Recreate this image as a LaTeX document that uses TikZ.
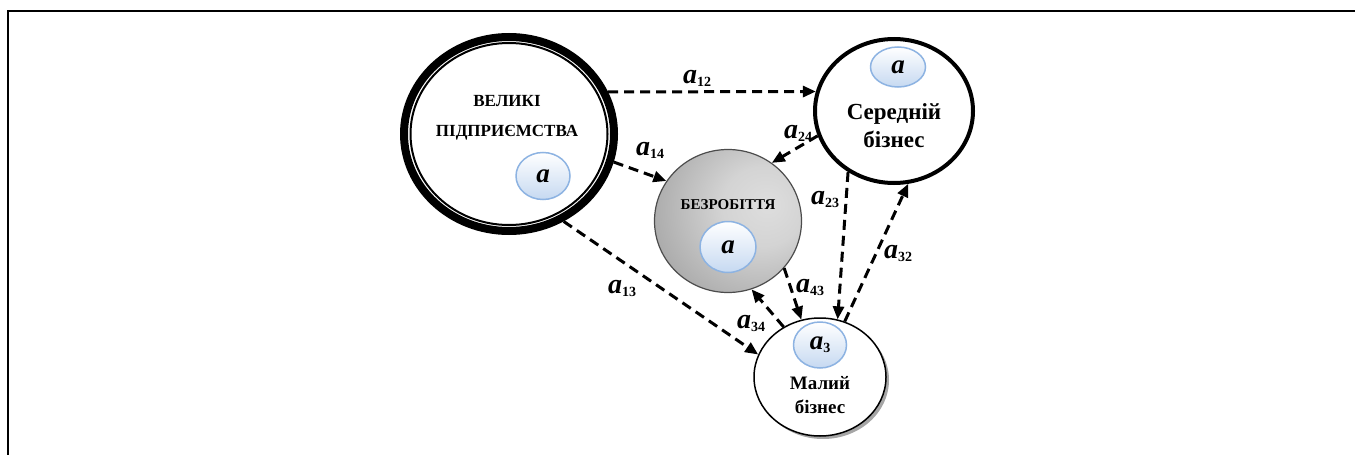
\documentclass[tikz,border=0pt]{standalone}
\usepackage{fontspec}
\setmainfont{Liberation Serif}
\usetikzlibrary{arrows.meta,shapes.geometric,shadows}
\definecolor{ringblue}{HTML}{8DB3E2}
\definecolor{fillblue}{HTML}{C6D9F1}
\pgfdeclareradialshading{greyball}{\pgfpoint{14bp}{6bp}}{color(0bp)=(gray!26);color(14bp)=(gray!34);color(50bp)=(gray!88);color(100bp)=(gray!88)}
\newcommand\albl[1]{{\fontsize{28}{28}\selectfont\bfseries\itshape a}\raisebox{-3pt}{\fontsize{14}{14}\selectfont\bfseries #1}}
\newcommand\avarA{{\fontsize{27}{27}\selectfont\bfseries\itshape a}}
\begin{document}
\begin{tikzpicture}[x=1pt,y=-1pt,
  conn/.style={line width=3pt, dash pattern=on 10pt off 6pt, -{Triangle[length=13pt,width=11pt]}},
  lbl/.style={inner sep=0pt},
  avar/.style={ellipse, draw=ringblue, line width=1.5pt, top color=white, bottom color=fillblue, inner sep=0pt},
  bigcirc/.style={ellipse, draw, line width=8pt, fill=white, inner sep=0pt},
  txt/.style={align=center, inner sep=0pt, font=\bfseries}]
\useasboundingbox (0,0) rectangle (1355,455);
\draw[line width=2.5pt] (8,455) -- (8,11) -- (1355,11);

% main nodes
\node[bigcirc, minimum width=210pt, minimum height=194pt] (big) at (509,134) {};
\draw[line width=2pt] (big.center) ellipse [x radius=98.5, y radius=91];
\node[ellipse, draw, line width=4pt, fill=white, minimum width=158pt, minimum height=144pt, inner sep=0pt] (med) at (894,111) {};
\node[ellipse, draw=gray!60!black, line width=1.2pt, shading=greyball, minimum width=147pt, minimum height=143pt, inner sep=0pt] (unemp) at (728,221) {};
\node[ellipse, draw, line width=1.5pt, fill=white, minimum width=132pt, minimum height=118pt, inner sep=0pt,
  drop shadow={shadow xshift=3pt, shadow yshift=-3pt, fill=gray!70, opacity=1}] (small) at (820,377) {};

% texts
\node[txt, font=\bfseries\fontsize{17}{30}\selectfont] (bigtxt) at (507,118) {ВЕЛИКІ\\ПІДПРИЄМСТВА};
\node[txt, font=\bfseries\fontsize{23}{28}\selectfont] (medtxt) at (894,126) {Середній\\бізнес};
\node[txt, font=\bfseries\fontsize{15}{18}\selectfont] (unemptxt) at (728,205) {БЕЗРОБІТТЯ};
\node[txt, font=\bfseries\fontsize{19}{24}\selectfont] (smalltxt) at (820,395) {Малий\\бізнес};

% inner a-ellipses
\node[avar, minimum width=54pt, minimum height=47pt] (abig) at (543,176) {\avarA};
\node[avar, minimum width=55pt, minimum height=40pt] (amed) at (898,67) {\avarA};
\node[avar, minimum width=56pt, minimum height=51pt] (aunemp) at (728,247) {\avarA};
\node[avar, minimum width=53pt, minimum height=46pt] (asmall) at (820,345) {{\fontsize{27}{27}\selectfont\bfseries\itshape a}\raisebox{-3pt}{\fontsize{14}{14}\selectfont\bfseries 3}};

% connectors
\draw[conn] (big.23) -- (med.166);
\draw[conn] (big.-15) -- (unemp.147);
\draw[conn] (med.198) -- (unemp.53);
\draw[conn] (med.-127) -- (small.73);
\draw[conn] (small.66) -- (med.-79);
\draw[conn] (unemp.-40) -- (small.108);
\draw[conn] (small.126) -- (unemp.-71);
\draw[conn] (big.-58) -- (small.160);

% labels
\node[lbl] (l12) at (697,78) {\albl{12}};
\node[lbl] (l14) at (650,150) {\albl{14}};
\node[lbl] (l24) at (798,133) {\albl{24}};
\node[lbl] (l23) at (825,199) {\albl{23}};
\node[lbl] (l32) at (898,253) {\albl{32}};
\node[lbl] (l43) at (810,287) {\albl{43}};
\node[lbl] (l34) at (751,323) {\albl{34}};
\node[lbl] (l13) at (622,288) {\albl{13}};
\end{tikzpicture}
\end{document}
